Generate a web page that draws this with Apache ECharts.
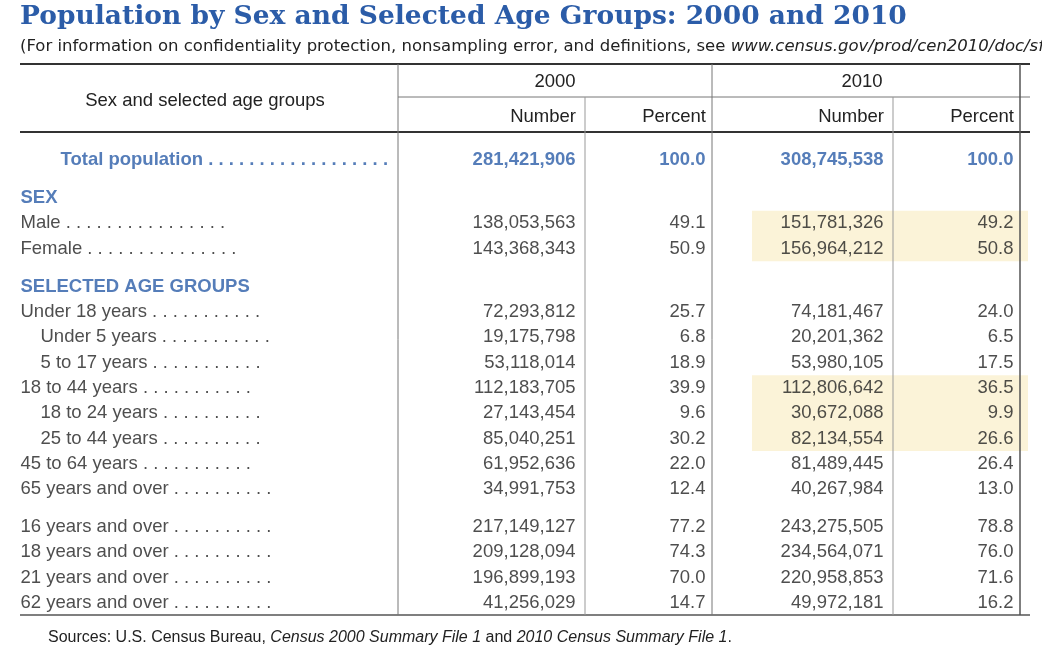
<!DOCTYPE html><html><head><meta charset="utf-8">
<script src="https://cdn.jsdelivr.net/npm/echarts@6/dist/echarts.min.js"></script>
<style>html,body{margin:0;background:#fff}#c{width:1042px;height:660px}</style></head><body><div id="c"></div>
<script>
// row slots (blank = spacer half-row)
const rowLabels=['Total population','','','SEX','','Male','','Female','','','SELECTED AGE GROUPS','','Under 18 years','','Under 5 years','','5 to 17 years','','18 to 44 years','','18 to 24 years','','25 to 44 years','','45 to 64 years','','65 years and over','','','16 years and over','','18 years and over','','21 years and over','','62 years and over'];
const rowKind=['total','','','section','','main','','main','','','section','','main','','sub','','sub','','main','','sub','','sub','','main','','main','','','main','','main','','main','','main'];
const num2000=['281,421,906','','','','','138,053,563','','143,368,343','','','','','72,293,812','','19,175,798','','53,118,014','','112,183,705','','27,143,454','','85,040,251','','61,952,636','','34,991,753','','','217,149,127','','209,128,094','','196,899,193','','41,256,029'];
const pct2000=['100.0','','','','','49.1','','50.9','','','','','25.7','','6.8','','18.9','','39.9','','9.6','','30.2','','22.0','','12.4','','','77.2','','74.3','','70.0','','14.7'];
const num2010=['308,745,538','','','','','151,781,326','','156,964,212','','','','','74,181,467','','20,201,362','','53,980,105','','112,806,642','','30,672,088','','82,134,554','','81,489,445','','40,267,984','','','243,275,505','','234,564,071','','220,958,853','','49,972,181'];
const pct2010=['100.0','','','','','49.2','','50.8','','','','','24.0','','6.5','','17.5','','36.5','','9.9','','26.6','','26.4','','13.0','','','78.8','','76.0','','71.6','','16.2'];
const headYear=['2000','2010'];
const headCol=['Number','Percent','Number','Percent'];

const blue='#2b5ca8', ink='#222', F='Liberation Sans';
const dots=' . . . . . . . . . . . . . . . . . . . . . . . . . . . . . . . . . . . . . . . . . . . . . . . . . . . . .';
const idx=rowLabels.map((_,i)=>i);
const series=[];
series.push({type:'scatter',symbolSize:1,silent:true,
  data:idx.filter(i=>rowLabels[i]!=='').map(i=>{
    const k=rowKind[i];
    const x=k==='total'?60:(k==='sub'?40:20);
    const w=k==='total'?335:(k==='sub'?355:375);
    return {value:[x,i],label:{
      formatter:k==='section'?rowLabels[i]:rowLabels[i]+dots,
      width:w,overflow:'truncate',ellipsis:'',
      color:(k==='total'||k==='section')?blue:ink,
      fontWeight:(k==='total'||k==='section')?'bold':'normal'}};
  }),
  label:{show:true,position:'right',distance:0,align:'left',verticalAlign:'middle',fontFamily:F,fontSize:18.5,color:ink},
  itemStyle:{color:'rgba(0,0,0,0)'},
  markArea:{silent:true,itemStyle:{color:'#fbf3d8'},data:[
    [{coord:[752,4]},{coord:[1028,8.2]}],
    [{coord:[752,17.2]},{coord:[1028,23]}]
  ]}
});
[[num2000,576],[pct2000,706],[num2010,884],[pct2010,1014]].forEach(([v,x])=>{
  series.push({type:'scatter',symbolSize:1,silent:true,
    data:idx.filter(i=>v[i]!=='').map(i=>({value:[x,i],label:{formatter:v[i],
      color:rowKind[i]==='total'?blue:ink,fontWeight:rowKind[i]==='total'?'bold':'normal'}})),
    label:{show:true,position:'left',distance:0,verticalAlign:'middle',fontFamily:F,fontSize:18.5,color:ink},
    itemStyle:{color:'rgba(0,0,0,0)'}});
});
const L=(x1,y1,x2,y2,w,c)=>({type:'line',shape:{x1,y1,x2,y2},style:{stroke:c||'#555',lineWidth:w||1},z:10});
const T=(x,y,t,o)=>({type:'text',x,y,style:Object.assign({text:t,fontFamily:F,fontSize:18.5,fill:ink,verticalAlign:'middle'},o||{}),z:10});
const graphic=[
  T(20,17,'Population by Sex and Selected Age Groups: 2000 and 2010',{fontFamily:'DejaVu Serif',fontWeight:'bold',fontSize:26.5,fill:blue}),
  {type:'text',x:20,y:47,z:10,style:{text:'{a|(For information on confidentiality protection, nonsampling error, and definitions, see }{b|www.census.gov/prod/cen2010/doc/sf1.pdf)}',verticalAlign:'middle',
    rich:{a:{fontFamily:'DejaVu Sans',fontSize:16.5,fill:ink},b:{fontFamily:'DejaVu Sans',fontSize:16.5,fontStyle:'italic',fill:ink}}}},
  L(20,64,1030,64,2,'#333'),
  L(398,97,1030,97,1,'#777'),
  L(20,132,1030,132,2,'#333'),
  L(20,615,1030,615,1.5,'#555'),
  L(398,64,398,615,1,'#777'),L(712,64,712,615,1,'#777'),L(1020,64,1020,615,1.5,'#555'),
  L(585,97,585,615,1,'#999'),L(893,97,893,615,1,'#999'),
  T(205,101,'Sex and selected age groups',{align:'center'}),
  T(555,82,headYear[0],{align:'center'}),T(862,82,headYear[1],{align:'center'}),
  T(576,117,headCol[0],{align:'right'}),T(706,117,headCol[1],{align:'right'}),
  T(884,117,headCol[2],{align:'right'}),T(1014,117,headCol[3],{align:'right'}),
  {type:'text',x:48,y:638,z:10,style:{text:'{a|Sources: U.S. Census Bureau, }{b|Census 2000 Summary File 1}{a| and }{b|2010 Census Summary File 1}{a|.}',verticalAlign:'middle',
    rich:{a:{fontFamily:F,fontSize:16,fill:ink},b:{fontFamily:F,fontSize:16,fontStyle:'italic',fill:ink}}}}
];
const chart=echarts.init(document.getElementById('c'));
chart.setOption({animation:false,
  grid:{left:0,right:0,top:160,bottom:57},
  xAxis:{type:'value',min:0,max:1042,show:false},
  yAxis:{type:'category',data:idx.map(String),inverse:true,boundaryGap:false,show:false},
  series,graphic});
</script></body></html>
